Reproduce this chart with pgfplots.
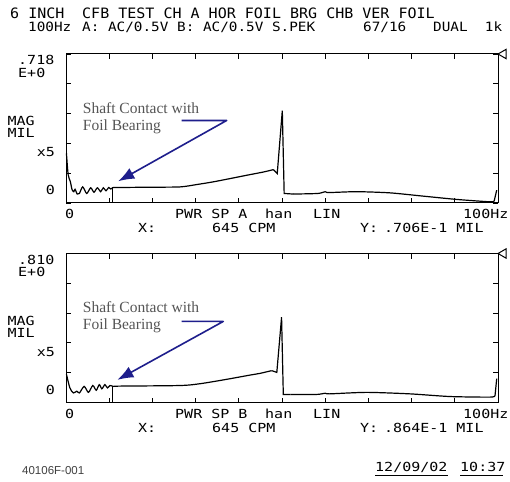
\documentclass[border=0pt]{standalone}
\usepackage{fontspec}
\usepackage{pgfplots}
\pgfplotsset{compat=1.18}
\usetikzlibrary{arrows.meta}
\setmainfont{Liberation Serif}
\newfontfamily\prt[FakeStretch=1.2]{DejaVu Sans Mono}
\newfontfamily\prth[FakeStretch=1.05]{DejaVu Sans Mono}
\newfontfamily\prtb[FakeStretch=1.12]{DejaVu Sans Mono}
\newfontfamily\arl{Liberation Sans}
\definecolor{arrowblue}{RGB}{30,30,140}
\definecolor{annot}{RGB}{85,85,85}
\newcommand{\Txt}[3]{\node[anchor=base west, inner sep=0pt] at (#1pt,{481pt-#2pt}) {#3};}
\newcommand{\Lab}[3]{\node[anchor=base west, inner sep=0pt, font=\prt\fontsize{12.5}{14}\selectfont] at (#1pt,{481pt-#2pt}) {#3};}
\pgfplotsset{panel/.style={scale only axis, width=432pt, height=149pt,
  xmin=0, xmax=100, ymin=0, ymax=5,
  xtick={0,10,...,100}, ytick={0,1,...,5},
  xticklabels={}, yticklabels={},
  tick align=inside, major tick length=5pt,
  axis line style={line width=1pt},
  every tick/.style={black, line width=0.9pt},
  clip=false, anchor=south west}}
\begin{document}
\begin{tikzpicture}
\path[use as bounding box, fill=white] (0,0) rectangle (510pt,481pt);
% ---------- top panel ----------
\begin{axis}[panel, at={(66pt,278pt)}]
\addplot[black, line width=1.2pt, smooth, tension=0.45] coordinates {
(0.1,1.67) (0.5,0.95) (1.0,0.72) (1.4,0.45) (1.8,0.38) (2.1,0.46) (2.6,0.30) (3.1,0.32)
(3.86,0.54) (4.79,0.32) (5.72,0.51) (6.48,0.36) (7.25,0.51) (8.03,0.38) (8.63,0.51)
(9.26,0.41) (9.88,0.52) (10.35,0.47) (10.95,0.52) (12.5,0.52) (19.4,0.53) (26.4,0.54)
(30.3,0.62) (34.1,0.71) (38.0,0.82) (41.8,0.93) (45.7,1.04) (48.0,1.12)};
\addplot[black, line width=1.2pt] coordinates {
(48.0,1.12) (48.9,0.99) (50.07,3.1) (50.5,0.32) (52.6,0.30)};
\addplot[black, line width=1.2pt, smooth, tension=0.4] coordinates {
(52.6,0.30) (58.3,0.32) (60.0,0.38) (60.8,0.35) (67.3,0.38)
(75.0,0.34) (82.7,0.23) (90.4,0.12) (98.1,0.04) (99.1,0.06)};
\addplot[black, line width=1.2pt] coordinates {(99.1,0.06) (99.7,0.43)};
\addplot[black, line width=0.7pt] coordinates {(10.75,0) (10.75,0.52)};
\addplot[only marks, mark=triangle, mark size=5.5pt, mark options={rotate=90, fill=white, line width=1pt}] coordinates {(101.27,5)};
\draw[arrowblue, line width=1.6pt, line join=round, -{Latex[length=16pt,width=12pt]}]
  (axis cs:26.78,2.77) -- (axis cs:37.2,2.77) -- (axis cs:12.1,0.73);
\end{axis}
% ---------- bottom panel ----------
\begin{axis}[panel, at={(66pt,78.5pt)}]
\addplot[black, line width=1.2pt, smooth, tension=0.45] coordinates {
(0.1,0.95) (0.9,0.49) (1.7,0.32) (2.5,0.38) (3.1,0.32) (4.2,0.54) (5.2,0.34) (6.2,0.57)
(7.0,0.41) (7.7,0.60) (8.3,0.46) (9.0,0.60) (9.6,0.49) (10.2,0.57) (10.95,0.54)
(12.5,0.55) (26.4,0.57) (31,0.63) (36.5,0.76) (42.6,0.92) (45,0.98) (47.6,1.07)};
\addplot[black, line width=1.2pt] coordinates {
(47.6,1.07) (48.8,1.01) (49.9,2.86) (50.3,0.27) (52,0.27)};
\addplot[black, line width=1.2pt, smooth, tension=0.4] coordinates {
(52,0.27) (58,0.27) (60,0.31) (61,0.29) (69.6,0.34)
(79.6,0.29) (88.9,0.2) (98.1,0.18) (99.3,0.22)};
\addplot[black, line width=1.2pt] coordinates {(99.3,0.22) (99.7,0.8)};
\addplot[black, line width=0.7pt] coordinates {(10.75,0) (10.75,0.54)};
\addplot[only marks, mark=triangle, mark size=5.5pt, mark options={rotate=90, fill=white, line width=1pt}] coordinates {(101.27,5)};
\draw[arrowblue, line width=1.6pt, line join=round, -{Latex[length=16pt,width=12pt]}]
  (axis cs:26.78,2.72) -- (axis cs:36.4,2.72) -- (axis cs:11.9,0.76);
\end{axis}
% ---------- header ----------
\Txt{10}{18.5}{\prth\fontsize{14.3}{15}\selectfont 6 INCH}
\Txt{82}{18.5}{\prth\fontsize{14.3}{15}\selectfont CFB TEST CH A HOR FOIL BRG CHB VER FOIL}
\Txt{28}{32}{\prtb\fontsize{12.8}{14}\selectfont 100Hz}
\Txt{82}{32}{\prtb\fontsize{12.8}{14}\selectfont A: AC/0.5V B: AC/0.5V S.PEK}
\Txt{363}{32}{\prtb\fontsize{12.8}{14}\selectfont 67/16}
\Txt{433}{32}{\prtb\fontsize{12.8}{14}\selectfont DUAL\ \ 1k}
% ---------- top panel labels ----------
\Lab{18}{65}{.718}
\Lab{18}{77.3}{E+0}
\Lab{7.3}{126}{MAG}
\Lab{7.3}{138}{MIL}
\Lab{36.7}{156.7}{x5}
\Lab{45.7}{195}{0}
\Lab{65}{218.5}{0}
\Lab{175}{218.5}{PWR SP A}
\Lab{265}{218.5}{han}
\Lab{313}{218.5}{LIN}
\Lab{463}{218.5}{100Hz}
\Lab{138}{233}{X:}
\Lab{212}{233}{645 CPM}
\Lab{360}{233}{Y:}
\Lab{384}{233}{.706E-1 MIL}
\Txt{82.7}{113.3}{\color{annot}\fontsize{15.5}{17}\selectfont Shaft Contact with}
\Txt{82.7}{130.3}{\color{annot}\fontsize{15.5}{17}\selectfont Foil Bearing}
% ---------- bottom panel labels ----------
\Lab{18}{264.5}{.810}
\Lab{18}{276.8}{E+0}
\Lab{7.3}{325.5}{MAG}
\Lab{7.3}{337.5}{MIL}
\Lab{36.7}{356.2}{x5}
\Lab{45.7}{394.5}{0}
\Lab{65}{418}{0}
\Lab{175}{418}{PWR SP B}
\Lab{265}{418}{han}
\Lab{313}{418}{LIN}
\Lab{463}{418}{100Hz}
\Lab{138}{432.5}{X:}
\Lab{212}{432.5}{645 CPM}
\Lab{360}{432.5}{Y:}
\Lab{384}{432.5}{.864E-1 MIL}
\Txt{82.7}{312.8}{\color{annot}\fontsize{15.5}{17}\selectfont Shaft Contact with}
\Txt{82.7}{329.8}{\color{annot}\fontsize{15.5}{17}\selectfont Foil Bearing}
% ---------- footer ----------
\Txt{22}{474}{\color{black!75}\arl\fontsize{11.5}{13}\selectfont 40106F-001}
\Lab{375}{471.7}{12/09/02}
\Lab{460}{471.7}{10:37}
\draw[line width=0.9pt] (375pt,{481pt-475pt}) -- (448pt,{481pt-475pt});
\draw[line width=0.9pt] (460pt,{481pt-475pt}) -- (503pt,{481pt-475pt});
\end{tikzpicture}
\end{document}
